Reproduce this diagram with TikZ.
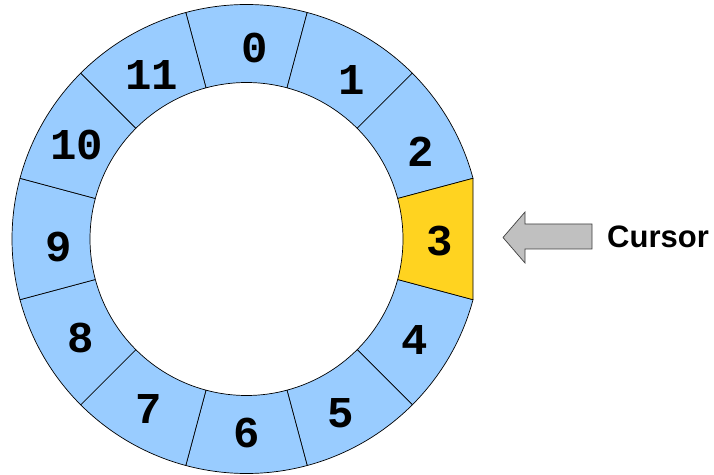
\documentclass[tikz,border=0pt]{standalone}
\usepackage{fontspec}
\newfontfamily\digfont{Liberation Mono}
\newfontfamily\labfont{Liberation Sans}
\definecolor{segblue}{HTML}{99CCFF}
\definecolor{segyellow}{HTML}{FFD320}
\definecolor{arrowgray}{HTML}{C0C0C0}
\definecolor{edgegray}{HTML}{404040}
\tikzset{
  seg/.style={fill=segblue, draw=black, line width=0.7pt, line join=round},
  cursorseg/.style={fill=segyellow, draw=black, line width=0.7pt, line join=round},
  num/.style={inner sep=0pt, font=\digfont\bfseries\fontsize{44}{44}\selectfont},
  ptr/.style={fill=arrowgray, draw=edgegray, line width=0.7pt, line join=miter},
  lab/.style={inner sep=0pt, font=\labfont\bfseries\fontsize{31}{31}\selectfont}
}
\begin{document}
\begin{tikzpicture}[x=1pt,y=1pt]
\useasboundingbox (0,0) rectangle (714,474);
\coordinate (C) at (246.5,235);
\def\Ro{234.5}
\def\Ri{156.5}
% blue segments
\foreach \k in {0,1,2,4,5,6,7,8,9,10,11}{
  \pgfmathsetmacro\aone{105-30*\k}
  \pgfmathsetmacro\atwo{75-30*\k}
  \path[seg, shift={(C)}] (\aone:\Ro) arc[start angle=\aone, end angle=\atwo, radius=\Ro]
    -- (\atwo:\Ri) arc[start angle=\atwo, end angle=\aone, radius=\Ri] -- cycle;
}
% cursor segment
\path[cursorseg, shift={(C)}] (15:\Ro) -- (-15:\Ro)
  -- (-15:\Ri) arc[start angle=-15, end angle=15, radius=\Ri] -- cycle;
% labels
\node[num] (n0) at (254.5,426) {0};
\node[num] (n1) at (352,394) {1};
\node[num] (n2) at (421,322.5) {2};
\node[num] (n3) at (440,233) {3};
\node[num] (n4) at (415,134) {4};
\node[num] (n5) at (341,61) {5};
\node[num] (n6) at (246.5,41) {6};
\node[num] (n7) at (149,65) {7};
\node[num] (n8) at (81,136) {8};
\node[num] (n9) at (59,227) {9};
\node[num] (n10) at (77,329) {10};
\node[num] (n11) at (151.5,398.5) {11};
% pointer arrow
\path[ptr] (503,236.5) -- (525,262) -- (525,250) -- (592,250) -- (592,225)
  -- (525,225) -- (525,211) -- cycle;
\node[lab, anchor=base west] (cursor) at (607,226) {Cursor};
\end{tikzpicture}
\end{document}
